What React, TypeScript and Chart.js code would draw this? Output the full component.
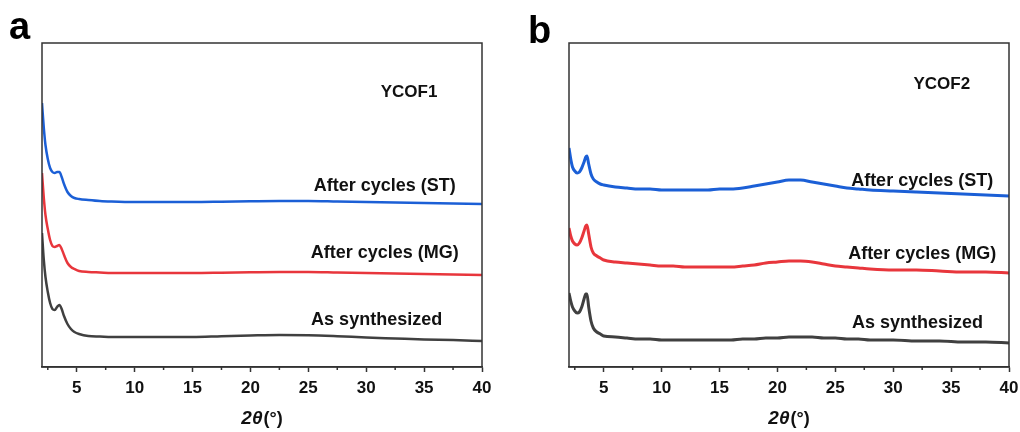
import React, { useEffect, useRef } from "react";
import { Chart, registerables } from "chart.js";

Chart.register(...registerables);

// ---------- data ----------
const X_MAJOR_TICKS = [5, 10, 15, 20, 25, 30, 35, 40];
const X_MINOR_TICKS = [2.5, 7.5, 12.5, 17.5, 22.5, 27.5, 32.5, 37.5];

// Panel a (YCOF1)
const A_X = [2.0, 2.15, 2.3, 2.5, 2.7, 2.9, 3.1, 3.3, 3.5, 3.7, 3.9, 4.2, 4.5, 4.8, 5.2, 6, 7, 8, 10, 12.5, 15, 17.5, 20, 22.5, 25, 27.5, 30, 32.5, 35, 37.5, 40];
const A_ST = [264, 240, 222, 208, 199, 195, 194, 195, 195, 190, 183, 175, 171, 169, 168, 167, 166, 165.5, 165, 165, 165, 165.3, 165.7, 166, 166, 165.5, 165, 164.5, 164, 163.5, 163];
const A_MG = [194, 170, 152, 138, 127, 121, 120, 121, 122, 118, 112, 104, 100, 98, 96, 95, 94.5, 94, 94, 94, 94, 94.3, 94.7, 95, 95, 94.5, 94, 93.5, 93, 92.5, 92];
const A_AS = [134, 108, 90, 75, 64, 58, 57, 60, 62, 58, 51, 43, 38, 35, 33, 31, 30.5, 30, 30, 30, 30, 30.8, 31.5, 32, 31.8, 30.8, 29.5, 28.5, 27.5, 27, 26];

// Panel b (YCOF2)
const B_X = [2.0, 2.15, 2.3, 2.5, 2.7, 2.9, 3.1, 3.3, 3.45, 3.55, 3.7, 3.9, 4.1, 4.4, 4.7, 5, 6, 7, 8, 9, 10, 11, 12, 13, 14, 15, 16, 17, 18, 19, 20, 21, 22, 23, 24, 25, 26, 27, 28, 30, 32, 34, 36, 38, 40];
const B_ST = [219, 208, 200, 196, 194, 195, 199, 205, 210, 211, 203, 193, 188, 185, 183, 182, 180, 179, 178, 178, 177, 177, 177, 177, 177, 178, 178, 179, 181, 183, 185, 187, 187, 185, 183, 181, 179, 178, 177, 176, 175, 174, 173, 172, 171];
const B_MG = [139, 131, 126, 123, 122, 124, 129, 136, 141, 142, 133, 120, 114, 111, 109, 107, 105, 104, 103, 102, 101, 101, 100, 100, 100, 100, 100, 101, 102, 104, 105, 106, 106, 105, 103, 101, 100, 99, 98, 97, 97, 96, 95, 95, 94];
const B_AS = [74, 66, 60, 56, 54, 55, 60, 68, 73, 73, 60, 46, 39, 35, 33, 31, 30, 29, 28, 28, 27, 27, 27, 27, 27, 27, 27, 28, 28, 29, 29, 30, 30, 30, 29, 29, 28, 28, 27, 27, 26, 26, 25, 25, 24];

const SERIES_NAMES = ["After cycles (ST)", "After cycles (MG)", "As synthesized"];
const SAMPLE_NAMES = ["YCOF1", "YCOF2"];
const PANEL_LETTERS = ["a", "b"];

// ---------- styles ----------
const COLORS = ["#1b5fd6", "#e8363c", "#404040"];
const FONT = "'Liberation Sans', Arial, sans-serif";
const AXIS_COLOR = "#333333";

type Label = { text: string; x: number; y: number; size: number };

type PanelCfg = {
  xs: number[];
  series: number[][];
  lineWidth: number;
  padLeft: number;
  padRight: number;
  letter: string;
  letterX: number;
  letterBaseline: number;
  labels: Label[];
};

const PANELS: PanelCfg[] = [
  {
    xs: A_X,
    series: [A_ST, A_MG, A_AS],
    lineWidth: 2.5,
    padLeft: 42,
    padRight: 28,
    letter: PANEL_LETTERS[0],
    letterX: 9,
    letterBaseline: 39,
    labels: [
      { text: SAMPLE_NAMES[0], x: 33.7, y: 275, size: 17 },
      { text: SERIES_NAMES[0], x: 31.6, y: 181, size: 18 },
      { text: SERIES_NAMES[1], x: 31.6, y: 114, size: 18 },
      { text: SERIES_NAMES[2], x: 30.9, y: 47, size: 18 },
    ],
  },
  {
    xs: B_X,
    series: [B_ST, B_MG, B_AS],
    lineWidth: 3,
    padLeft: 59,
    padRight: 11,
    letter: PANEL_LETTERS[1],
    letterX: 18,
    letterBaseline: 43,
    labels: [
      { text: SAMPLE_NAMES[1], x: 34.2, y: 283, size: 17 },
      { text: SERIES_NAMES[0], x: 32.5, y: 186, size: 18 },
      { text: SERIES_NAMES[1], x: 32.5, y: 113, size: 18 },
      { text: SERIES_NAMES[2], x: 32.1, y: 44, size: 18 },
    ],
  },
];

const CANVAS_W = 510;
const CANVAS_H = 432;

function Panel({ cfg, left }: { cfg: PanelCfg; left: number }) {
  const ref = useRef<HTMLCanvasElement | null>(null);

  useEffect(() => {
    if (!ref.current) return;

    const decor = {
      id: "decor" + cfg.letter,
      afterDraw(chart: any) {
        const ctx = chart.ctx as CanvasRenderingContext2D;
        const area = chart.chartArea;
        const xs = chart.scales.x;
        const ys = chart.scales.y;
        ctx.save();
        // frame
        ctx.strokeStyle = AXIS_COLOR;
        ctx.lineWidth = 1.5;
        ctx.strokeRect(area.left, area.top, area.right - area.left, area.bottom - area.top);
        // minor ticks
        ctx.beginPath();
        X_MINOR_TICKS.forEach((v) => {
          const px = xs.getPixelForValue(v);
          ctx.moveTo(px, area.bottom);
          ctx.lineTo(px, area.bottom + 3);
        });
        ctx.stroke();
        // labels
        ctx.fillStyle = "#111111";
        ctx.textAlign = "center";
        ctx.textBaseline = "middle";
        cfg.labels.forEach((l) => {
          ctx.font = `bold ${l.size}px ${FONT}`;
          ctx.fillText(l.text, xs.getPixelForValue(l.x), ys.getPixelForValue(l.y));
        });
        // panel letter
        ctx.textAlign = "left";
        ctx.textBaseline = "alphabetic";
        ctx.font = `bold 38px ${FONT}`;
        ctx.fillStyle = "#000000";
        ctx.fillText(cfg.letter, cfg.letterX, cfg.letterBaseline);
        // axis title: 2θ (°)
        const cx = (area.left + area.right) / 2;
        const ty = 424;
        const f1 = `italic bold 19px ${FONT}`;
        const f2 = `bold 18px ${FONT}`;
        ctx.font = f1;
        const w1 = ctx.measureText("2θ").width;
        ctx.font = f2;
        const w2 = ctx.measureText("(°)").width;
        const start = cx - (w1 + w2 + 1) / 2;
        ctx.fillStyle = "#111111";
        ctx.font = f1;
        ctx.fillText("2θ", start, ty);
        ctx.font = f2;
        ctx.fillText("(°)", start + w1 + 1, ty);
        ctx.restore();
      },
    };

    const chart = new Chart(ref.current, {
      type: "line",
      data: {
        datasets: cfg.series.map((ys, i) => ({
          label: SERIES_NAMES[i],
          data: cfg.xs.map((x, j) => ({ x, y: ys[j] })),
          borderColor: COLORS[i],
          borderWidth: cfg.lineWidth,
          pointRadius: 0,
          fill: false,
          tension: 0.35,
          cubicInterpolationMode: "monotone" as const,
        })),
      },
      options: {
        animation: false,
        responsive: false,
        maintainAspectRatio: false,
        layout: {
          padding: { left: cfg.padLeft, right: cfg.padRight, top: 43, bottom: 35 },
        },
        plugins: {
          legend: { display: false },
          tooltip: { enabled: false },
        },
        scales: {
          x: {
            type: "linear",
            min: 2,
            max: 40,
            afterBuildTicks: (scale: any) => {
              scale.ticks = X_MAJOR_TICKS.map((v) => ({ value: v }));
            },
            afterFit: (scale: any) => {
              scale.height = 30;
              scale.paddingLeft = 0;
              scale.paddingRight = 0;
            },
            grid: {
              display: true,
              drawOnChartArea: false,
              drawTicks: true,
              tickLength: 5,
              tickColor: AXIS_COLOR,
              tickWidth: 1.5,
            },
            border: { display: true, color: AXIS_COLOR, width: 1.5 },
            ticks: {
              color: "#111111",
              padding: 6,
              maxRotation: 0,
              autoSkip: false,
              font: { family: FONT, size: 17, weight: "bold" },
            },
          },
          y: {
            type: "linear",
            display: false,
            min: 0,
            max: 324,
          },
        },
      },
      plugins: [decor],
    });

    return () => chart.destroy();
  }, [cfg]);

  return (
    <canvas
      ref={ref}
      width={CANVAS_W}
      height={CANVAS_H}
      style={{ position: "absolute", left, top: 0, width: CANVAS_W, height: CANVAS_H }}
    />
  );
}

export default function App() {
  return (
    <div style={{ position: "absolute", left: 0, top: 0, width: 1020, height: 432, background: "#ffffff" }}>
      <Panel cfg={PANELS[0]} left={0} />
      <Panel cfg={PANELS[1]} left={510} />
    </div>
  );
}
